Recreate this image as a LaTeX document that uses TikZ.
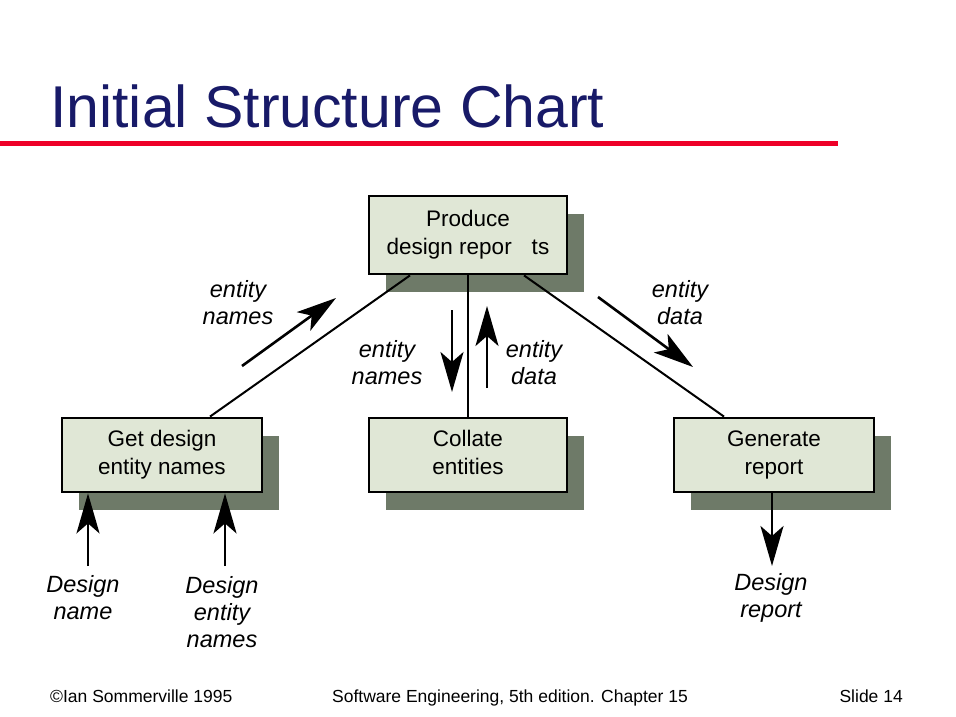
\documentclass[tikz,border=0pt]{standalone}
\usepackage{fontspec}
\setmainfont{Liberation Sans}
\usetikzlibrary{arrows.meta,positioning,shadows}
\definecolor{titleblue}{RGB}{24,26,104}
\definecolor{slidered}{RGB}{238,0,40}
\definecolor{boxfill}{RGB}{224,231,214}
\definecolor{shadowgray}{RGB}{110,122,104}

\begin{document}
\begin{tikzpicture}[x=1pt,y=-1pt,
        module/.style={draw, line width=2.8pt, fill=boxfill, minimum width=198pt, minimum height=74pt,
            align=center, inner sep=0pt, font=\fontsize{22.5}{28}\selectfont,
            general shadow={fill=shadowgray, shadow xshift=17pt, shadow yshift=-18pt}},
        flow/.style={line width=2.6pt, -{Stealth[length=40pt,width=23pt,inset=10pt]}},
        lbl/.style={align=center, font=\itshape\fontsize{23.5}{27}\selectfont},
        foot/.style={inner sep=0pt, font=\fontsize{17.5}{20}\selectfont},
        link/.style={line width=2pt}]
        \useasboundingbox (0,0) rectangle (956,717);
        % title and rule
        \node[anchor=base west, text=titleblue, inner sep=0pt, font=\fontsize{59}{60}\selectfont] (title) at (50,127) {Initial Structure Chart};
        \draw[slidered, line width=5pt] (0,143) -- (838,143);
        % modules
        \node[module, minimum height=78pt] (produce) at (468,235) {Produce\\design repor\hspace{20pt}ts};
        \node[module, minimum width=200pt] (getdesign) at (162,455) {Get design\\entity names};
        \node[module] (collate) at (468,455) {Collate\\entities\vphantom{g}};
        \node[module, minimum width=200pt] (generate) at (774,455) {Generate\\report};
        % calls
        \draw[link] ([xshift=-58pt]produce.south) -- ([xshift=48pt]getdesign.north);
        \draw[link] (produce.south) -- (collate.north);
        \draw[link] ([xshift=56pt]produce.south) -- ([xshift=-50pt]generate.north);
        % data passed between modules
        \coordinate (nm1) at (242,366); \coordinate (nm2) at (336,298);
        \draw[flow] (nm1) -- (nm2);
        \node[lbl] (lnames) at (238,303) {entity\\names};
        \coordinate (en1) at (452,310); \coordinate (en2) at (452,392);
        \draw[flow] (en1) -- (en2);
        \node[lbl] (cnames) at (387,363) {entity\\names};
        \coordinate (ed1) at (487,388); \coordinate (ed2) at (487,306);
        \draw[flow] (ed1) -- (ed2);
        \node[lbl] (cdata) at (534,363) {entity\\data};
        \coordinate (gd1) at (598,297); \coordinate (gd2) at (693,367);
        \draw[flow] (gd1) -- (gd2);
        \node[lbl] (gdata) at (680,303) {entity\\data};
        % inputs and output
        \coordinate (dname) at (88,566);
        \draw[flow] (dname) -- (dname |- getdesign.south);
        \node[lbl] (dnamel) at (83,598) {Design\\name};
        \coordinate (dnames) at (225,566);
        \draw[flow] (dnames) -- (dnames |- getdesign.south);
        \node[lbl] (dnamesl) at (222,612) {Design\\entity\\names};
        \coordinate (drep) at (772,566);
        \draw[flow] (drep |- generate.south) -- (drep);
        \node[lbl] (drepl) at (771,598) {Design\\report};
        % footer
        \node[foot, anchor=base west] (copy) at (50,702) {©Ian Sommerville 1995};
        \node[foot, anchor=base] (book) at (510,702) {Software Engineering, 5th edition. Chapter 15};
        \node[foot, anchor=base east] (slide) at (903,702) {Slide 14};
\end{tikzpicture}
\end{document}
